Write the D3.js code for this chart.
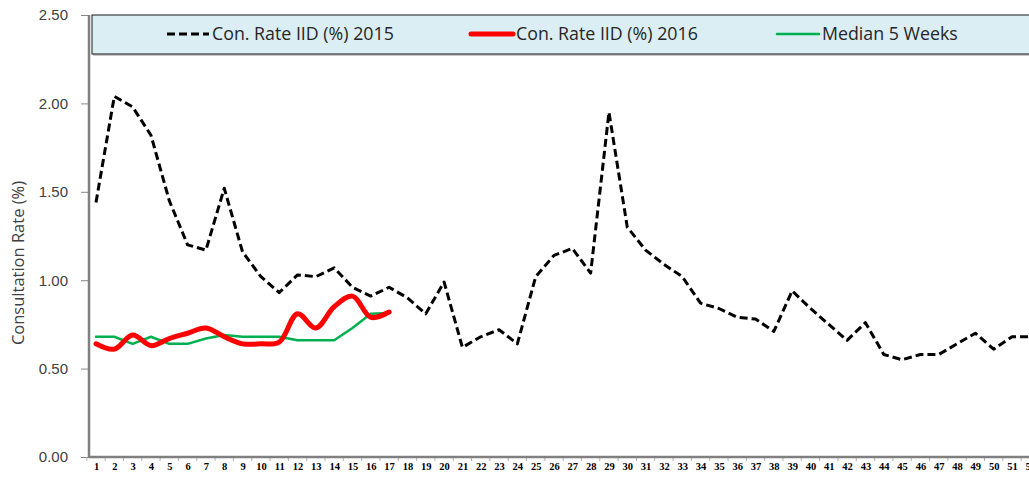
<!DOCTYPE html>
<html>
<head>
<meta charset="utf-8">
<script src="https://cdn.jsdelivr.net/npm/d3@7"></script>
<style>
    body { margin: 0; background: #fff; }
    svg { display: block; font-family: "Open Sans", "Noto Sans", sans-serif; }
    .y-axis text { fill: #404040; font-size: 15px; }
    .x-axis text { fill: #000; font-size: 10.5px; font-weight: bold;
        font-family: "Liberation Serif", serif; }
    .legend text { fill: #262626; font-size: 17.8px; }
</style>
</head>
<body>
<svg width="1029" height="478"></svg>
<script>
/*jslint browser: true, es6: true, maxlen: 80 */
/*global d3 */

var weeks = d3.range(1, 53);

var rate2015 = [
    1.44, 2.04, 1.98, 1.82, 1.45, 1.20, 1.17, 1.52, 1.16, 1.02,
    0.93, 1.03, 1.02, 1.07, 0.96, 0.91, 0.96, 0.90, 0.81, 0.99,
    0.62, 0.68, 0.72, 0.64, 1.02, 1.14, 1.18, 1.04, 1.95, 1.30,
    1.17, 1.09, 1.02, 0.87, 0.84, 0.79, 0.78, 0.71, 0.94, 0.84,
    0.75, 0.66, 0.76, 0.58, 0.55, 0.58, 0.58, 0.64, 0.70, 0.61,
    0.68, 0.68
];

var rate2016 = [
    0.64, 0.61, 0.69, 0.63, 0.67, 0.70, 0.73, 0.68, 0.64, 0.64,
    0.65, 0.81, 0.73, 0.85, 0.91, 0.79, 0.82
];

var median5 = [
    0.68, 0.68, 0.64, 0.68, 0.64, 0.64, 0.67, 0.69, 0.68, 0.68,
    0.68, 0.66, 0.66, 0.66, 0.73, 0.81, 0.815
];

var yTicks = [0, 0.5, 1, 1.5, 2, 2.5];

var legendItems = [
    {label: "Con. Rate IID (%) 2015", cls: "s2015"},
    {label: "Con. Rate IID (%) 2016", cls: "s2016"},
    {label: "Median 5 Weeks", cls: "median"}
];

(function () {
    "use strict";

    var svg = d3.select("svg");
    var left = 89;
    var top = 15;
    var bottom = 457;
    var step = 18.32; // px per week

    var xScale = d3.scalePoint()
        .domain(weeks)
        .range([96, 96 + (weeks.length - 1) * step]);
    var yScale = d3.scaleLinear()
        .domain([0, 2.5])
        .range([bottom, top]);

    var styles = {
        s2015: {stroke: "#000", width: 3, dash: "8,4"},
        s2016: {stroke: "#ff0000", width: 5, dash: null},
        median: {stroke: "#00b050", width: 2.5, dash: null}
    };

    // y axis
    var yAxis = d3.axisLeft(yScale)
        .tickValues(yTicks)
        .tickFormat(d3.format(".2f"))
        .tickSize(8)
        .tickPadding(13);
    var yAxisGroup = svg.append("g")
        .attr("class", "y-axis")
        .attr("transform", "translate(" + left + ",0)")
        .call(yAxis);
    yAxisGroup.select(".domain").remove();
    yAxisGroup.selectAll("line").attr("stroke", "#868686");

    // x axis labels
    var xAxis = d3.axisBottom(xScale)
        .tickSize(0)
        .tickPadding(6);
    var xAxisGroup = svg.append("g")
        .attr("class", "x-axis")
        .attr("transform", "translate(0," + bottom + ")")
        .call(xAxis);
    xAxisGroup.select(".domain").remove();

    // small marks between categories
    svg.append("g")
        .selectAll("line")
        .data(weeks)
        .join("line")
        .attr("x1", function (d) {
            return xScale(d) - step / 2;
        })
        .attr("x2", function (d) {
            return xScale(d) - step / 2;
        })
        .attr("y1", bottom)
        .attr("y2", bottom + 4)
        .attr("stroke", "#b0b0b0")
        .attr("stroke-width", 1);

    // axis lines
    svg.append("line")
        .attr("x1", left)
        .attr("x2", 1029)
        .attr("y1", bottom)
        .attr("y2", bottom)
        .attr("stroke", "#808080")
        .attr("stroke-width", 2.5);
    svg.append("line")
        .attr("x1", left)
        .attr("x2", left)
        .attr("y1", top)
        .attr("y2", bottom + 1)
        .attr("stroke", "#808080")
        .attr("stroke-width", 2.5);

    // y title
    svg.append("text")
        .attr("transform", "translate(24," + ((top + bottom) / 2 + 27) +
                ") rotate(-90)")
        .attr("text-anchor", "middle")
        .style("font-size", "16.5px")
        .style("fill", "#404040")
        .text("Consultation Rate (%)");

    // series
    var straight = d3.line()
        .x(function (ignore, i) {
            return xScale(weeks[i]);
        })
        .y(function (d) {
            return yScale(d);
        });
    var smooth = d3.line()
        .curve(d3.curveCatmullRom.alpha(0.5))
        .x(function (ignore, i) {
            return xScale(weeks[i]);
        })
        .y(function (d) {
            return yScale(d);
        });

    var drawSeries = function (values, style, gen) {
        svg.append("path")
            .datum(values)
            .attr("fill", "none")
            .attr("stroke", style.stroke)
            .attr("stroke-width", style.width)
            .attr("stroke-dasharray", style.dash)
            .attr("stroke-linejoin", "round")
            .attr("stroke-linecap", style.dash ? "butt" : "round")
            .attr("d", gen);
    };

    drawSeries(rate2015, styles.s2015, straight);
    drawSeries(median5, styles.median, straight);
    drawSeries(rate2016, styles.s2016, smooth);

    // legend
    var legend = svg.append("g").attr("class", "legend");
    legend.append("rect")
        .attr("x", 93)
        .attr("y", 17)
        .attr("width", 940)
        .attr("height", 39)
        .attr("fill", "#c8c8c8");
    legend.append("rect")
        .attr("x", 92)
        .attr("y", 15)
        .attr("width", 940)
        .attr("height", 39)
        .attr("fill", "#daeef3")
        .attr("stroke", "#1a1a1a")
        .attr("stroke-width", 1);

    var itemX = [167, 471, 777];
    var items = legend.selectAll("g.item")
        .data(legendItems)
        .join("g")
        .attr("class", "item")
        .attr("transform", function (ignore, i) {
            return "translate(" + itemX[i] + ",34)";
        });
    items.append("line")
        .attr("x1", 0)
        .attr("x2", 42)
        .attr("stroke", function (d) {
            return styles[d.cls].stroke;
        })
        .attr("stroke-width", function (d) {
            return styles[d.cls].width;
        })
        .attr("stroke-dasharray", function (d) {
            return styles[d.cls].dash;
        })
        .attr("stroke-linecap", function (d) {
            return styles[d.cls].dash ? "butt" : "round";
        });
    items.append("text")
        .attr("x", 45)
        .attr("dy", "0.35em")
        .text(function (d) {
            return d.label;
        });
}());
</script>
</body>
</html>
